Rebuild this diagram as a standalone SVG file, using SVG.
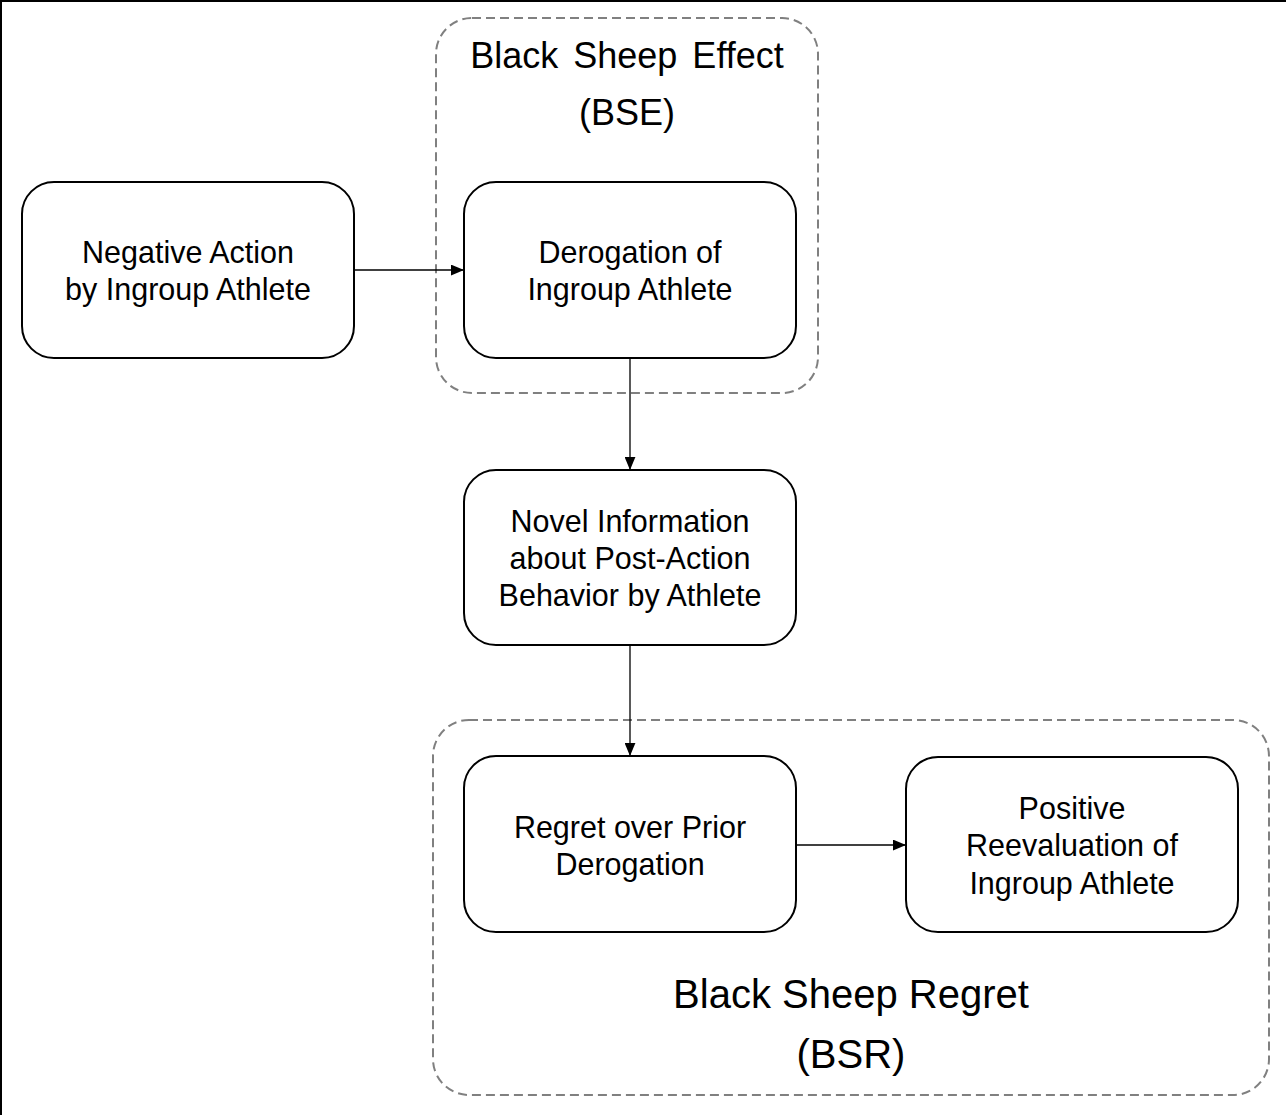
<svg xmlns="http://www.w3.org/2000/svg" width="1286" height="1115" viewBox="0 0 1286 1115">
<style>
.node{fill:#fff;stroke:#000;stroke-width:2}
.grp{fill:none;stroke:#808080;stroke-width:2;stroke-dasharray:9 5}
.t{font-family:"Liberation Sans",Arial,sans-serif;font-size:30.5px;fill:#000;text-anchor:middle}
.gl{font-family:"Liberation Sans",Arial,sans-serif;fill:#000;text-anchor:middle}
.c{stroke:#000;stroke-width:1.3;fill:none;marker-end:url(#ah)}
</style>
<defs>
<marker id="ah" viewBox="0 0 12 10" refX="12" refY="5" markerWidth="13" markerHeight="11" markerUnits="userSpaceOnUse" orient="auto">
<path d="M0,0 L12,5 L0,10 Z" fill="#000"/>
</marker>
</defs>
<rect width="1286" height="1115" fill="#fff"/>
<g id="frame"><path d="M0,1 H1286 M1,0 V1115" stroke="#000" stroke-width="2"/></g>
<g id="BSE">
<rect class="grp" x="436" y="18" width="382" height="375" rx="36"/>
<text class="gl" x="627" y="68" font-size="36" word-spacing="5">Black Sheep Effect</text>
<text class="gl" x="627" y="125" font-size="36">(BSE)</text>
</g>
<g id="BSR">
<rect class="grp" x="433" y="720" width="836" height="375" rx="36"/>
<text class="gl" x="851" y="1008" font-size="40">Black Sheep Regret</text>
<text class="gl" x="851" y="1068" font-size="40">(BSR)</text>
</g>
<g id="connectors">
<line class="c" x1="354" y1="270" x2="464" y2="270"/>
<line class="c" x1="630" y1="358" x2="630" y2="470"/>
<line class="c" x1="630" y1="645" x2="630" y2="756"/>
<line class="c" x1="796" y1="845" x2="906" y2="845"/>
</g>
<g id="n1">
<rect class="node" x="22" y="182" width="332" height="176" rx="32"/>
<text class="t" x="188" y="263">Negative Action</text>
<text class="t" x="188" y="300">by Ingroup Athlete</text>
</g>
<g id="n2">
<rect class="node" x="464" y="182" width="332" height="176" rx="32"/>
<text class="t" x="630" y="263">Derogation of</text>
<text class="t" x="630" y="300">Ingroup Athlete</text>
</g>
<g id="n3">
<rect class="node" x="464" y="470" width="332" height="175" rx="32"/>
<text class="t" x="630" y="532">Novel Information</text>
<text class="t" x="630" y="569">about Post-Action</text>
<text class="t" x="630" y="606">Behavior by Athlete</text>
</g>
<g id="n4">
<rect class="node" x="464" y="756" width="332" height="176" rx="32"/>
<text class="t" x="630" y="838">Regret over Prior</text>
<text class="t" x="630" y="875">Derogation</text>
</g>
<g id="n5">
<rect class="node" x="906" y="757" width="332" height="175" rx="32"/>
<text class="t" x="1072" y="819">Positive</text>
<text class="t" x="1072" y="856">Reevaluation of</text>
<text class="t" x="1072" y="894">Ingroup Athlete</text>
</g>
</svg>
